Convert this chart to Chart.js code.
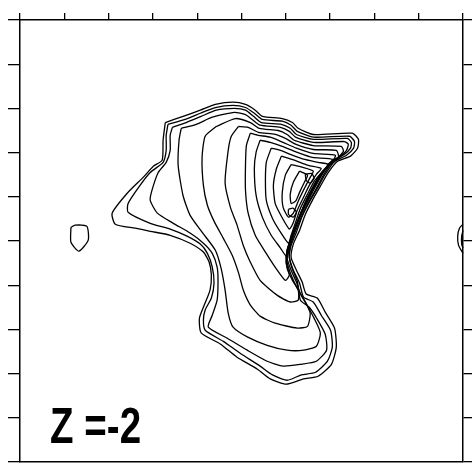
<!DOCTYPE html>
<html>
<head>
    <title>Z = -2</title>
    <script src="https://cdn.jsdelivr.net/npm/chart.js"></script>
    <style>
        body { margin: 0; background: #fff; }
        #wrap { width: 472px; height: 464px; }
    </style>
</head>
<body>
    <div id="wrap"><canvas id="contourChart"></canvas></div>
    <script>
        // contour lines, outer to inner, in plot units (0..100 both ways)
        const contour1 = [[32.8,76.8],[36.8,78.2],[40.7,79.6],[44.1,80.9],[48.1,81.4],[50.9,80.9],[53.1,79.6],[54.7,78.2],[59.2,77.7],[61.5,76.8],[62.8,75.5],[66.2,74.1],[75.0,74.4],[76.4,73.0],[76.2,71.0],[74.6,69.2],[71.6,68.0],[69.6,65.5],[67.8,62.4],[66.0,59.2],[64.4,56.0],[63.1,52.4],[61.7,49.3],[61.2,46.3],[62.4,43.4],[63.7,40.7],[64.6,38.0],[67.1,37.1],[68.9,33.9],[71.0,30.3],[71.4,26.0],[70.3,22.1],[67.3,19.4],[64.0,18.8],[60.1,17.6],[56.5,18.8],[53.6,21.0],[49.0,23.7],[45.2,26.7],[40.9,29.2],[40.5,32.5],[41.6,35.5],[42.9,38.9],[43.2,42.3],[42.7,45.2],[41.4,47.5],[38.4,49.5],[33.9,51.3],[29.4,52.2],[26.0,52.9],[21.5,53.8],[20.8,56.3],[24.2,60.8],[27.8,64.4],[30.1,66.9],[32.1,68.3],[32.3,72.8],[32.8,76.8]];
        const contour2 = [[33.4,76.4],[37.3,77.5],[40.7,78.9],[44.1,80.2],[48.1,80.7],[50.9,80.2],[52.9,78.9],[54.7,77.5],[59.2,77.1],[61.2,76.2],[62.6,74.8],[66.2,73.5],[74.4,73.7],[75.5,72.5],[75.3,71.0],[73.7,69.4],[71.0,68.0],[68.9,65.1],[67.1,61.9],[65.3,58.8],[63.7,55.6],[62.4,52.0],[61.2,49.0],[60.8,46.3],[61.7,43.4],[63.1,40.5],[64.0,37.3],[66.2,36.2],[68.0,33.2],[70.1,29.8],[70.5,26.0],[69.4,22.8],[66.7,20.3],[63.5,19.7],[60.3,18.5],[57.0,19.7],[54.2,21.7],[49.7,24.6],[45.9,27.3],[41.8,29.8],[41.4,32.1],[41.8,34.4],[43.2,37.1],[43.8,40.5],[43.4,44.1],[42.3,47.2],[40.7,49.3],[37.7,51.1],[33.9,52.7],[29.4,54.0],[24.4,56.5],[24.4,58.5],[27.1,62.6],[29.4,65.5],[32.3,67.8],[33.0,70.5],[33.0,73.9],[33.4,76.4]];
        const contour3 = [[34.4,75.7],[37.5,76.8],[40.9,78.2],[44.3,79.6],[48.4,80.0],[50.9,79.6],[52.7,78.2],[54.5,76.8],[59.0,76.4],[61.0,75.5],[62.4,74.1],[66.2,73.0],[73.9,73.2],[74.8,72.3],[74.6,71.0],[73.2,69.6],[70.5,68.0],[68.5,64.9],[66.7,61.5],[64.9,58.3],[63.3,54.9],[61.9,51.5],[61.0,48.8],[60.8,46.3],[61.5,43.6],[62.6,40.9],[63.3,36.6],[65.3,35.0],[67.1,32.3],[68.9,28.9],[69.2,25.3],[66.9,22.8],[63.3,22.1],[59.4,21.7],[55.8,22.8],[51.3,25.3],[46.8,28.0],[42.5,30.5],[43.4,33.2],[44.5,36.6],[44.7,41.1],[44.5,44.1],[43.4,47.2],[41.4,49.5],[38.4,51.8],[34.6,54.0],[31.0,56.3],[29.4,59.2],[29.8,61.5],[31.2,65.5],[33.0,67.8],[33.9,70.5],[33.9,73.9],[34.4,75.7]];
        const contour4 = [[36.4,75.5],[39.8,76.4],[43.4,78.0],[48.4,79.1],[50.9,78.6],[52.4,77.5],[54.2,76.2],[58.8,75.7],[60.8,74.8],[62.2,73.5],[66.2,72.3],[73.2,72.5],[74.1,71.9],[73.7,70.5],[72.3,69.2],[69.8,67.6],[67.8,64.4],[66.0,61.0],[64.4,57.9],[62.8,54.5],[61.5,51.1],[60.6,48.4],[60.3,46.1],[61.2,43.4],[62.4,40.7],[63.3,38.0],[64.9,35.3],[66.4,32.5],[67.8,29.2],[66.9,26.2],[64.0,25.3],[60.3,25.3],[55.8,26.4],[51.3,28.3],[48.1,30.5],[47.0,33.7],[46.3,38.9],[45.4,43.8],[44.1,47.9],[41.1,52.0],[38.4,55.8],[36.8,60.3],[35.7,67.1],[35.9,72.8],[36.4,75.5]];
        const contour5 = [[44.3,75.9],[41.8,73.7],[41.1,68.9],[41.4,62.6],[42.3,58.1],[43.8,54.5],[45.9,50.6],[47.9,46.8],[49.3,42.9],[50.4,38.9],[52.0,35.5],[54.2,33.0],[57.6,31.4],[62.6,30.3],[64.9,30.7],[65.5,33.7],[64.2,36.6],[62.6,39.3],[61.2,42.3],[60.3,45.2],[60.3,47.9],[61.2,50.6],[62.6,54.0],[64.0,57.4],[65.5,60.6],[67.3,63.7],[69.4,66.9],[71.6,68.7],[73.0,70.3],[72.5,71.4],[66.2,71.6],[61.9,72.8],[60.3,74.1],[58.3,75.0],[54.0,75.5],[52.0,76.8],[48.6,77.7],[44.3,75.9]];
        const contour6 = [[49.3,75.9],[47.7,73.7],[47.0,70.5],[46.3,63.1],[47.5,57.6],[49.0,53.6],[50.4,49.0],[52.0,45.2],[54.2,41.1],[58.1,37.7],[61.0,36.2],[62.8,36.6],[62.8,38.9],[61.5,41.1],[60.3,43.8],[60.1,46.8],[60.8,49.5],[61.9,52.7],[63.3,56.0],[64.6,59.2],[66.2,62.4],[68.0,65.3],[70.1,67.3],[71.9,68.9],[71.4,70.5],[66.2,70.7],[62.2,71.9],[59.9,73.2],[57.6,74.1],[53.8,74.6],[51.5,75.7],[49.3,75.9]];
        const contour7 = [[52.0,74.4],[51.1,71.6],[50.9,67.1],[50.9,61.5],[51.5,56.3],[53.1,51.3],[55.4,47.5],[57.6,44.1],[59.9,41.1],[60.8,42.3],[60.1,45.0],[60.3,47.9],[61.2,50.6],[62.4,53.8],[63.7,57.0],[65.3,60.1],[66.9,63.3],[68.7,66.0],[70.5,68.0],[71.2,69.4],[66.2,69.8],[62.4,71.0],[59.4,72.3],[56.5,73.5],[53.8,73.9],[52.0,74.4]];
        const contour8 = [[54.2,72.8],[53.3,70.1],[52.9,66.4],[53.3,60.3],[54.7,55.4],[56.7,51.3],[58.8,48.4],[60.3,46.3],[60.8,48.6],[61.7,51.8],[62.8,54.9],[64.2,58.3],[65.8,61.5],[67.3,64.4],[69.2,66.7],[70.5,68.5],[66.0,68.9],[62.4,70.1],[59.2,71.4],[56.5,72.3],[54.2,72.8]];
        const contour9 = [[56.7,71.0],[55.6,67.8],[55.4,63.7],[55.6,59.2],[57.0,55.1],[58.8,52.0],[60.6,49.5],[61.2,51.3],[62.2,54.2],[63.3,57.4],[64.9,60.6],[66.4,63.5],[68.3,65.8],[69.6,67.3],[67.3,67.8],[64.0,68.5],[61.0,69.6],[58.8,70.5],[56.7,71.0]];
        const contour10 = [[59.0,69.2],[57.9,66.4],[57.2,62.6],[57.6,58.5],[59.0,55.6],[60.8,52.7],[61.7,54.2],[62.6,57.0],[64.0,59.9],[65.3,62.6],[66.9,65.1],[68.0,66.4],[65.1,67.1],[61.9,68.3],[59.0,69.2]];
        const contour11 = [[61.2,67.3],[59.9,64.9],[59.2,61.0],[59.4,57.6],[60.6,55.4],[61.7,56.3],[62.8,59.0],[64.2,61.9],[65.5,64.4],[66.2,65.8],[63.7,66.7],[61.2,67.3]];
        const contour12 = [[63.1,65.8],[61.7,63.3],[61.0,60.6],[61.2,58.5],[62.2,59.0],[63.1,61.0],[64.2,63.3],[64.9,64.9],[63.1,65.8]];
        const loopA = [[64.4,65.1],[65.8,65.3],[66.4,64.2],[65.5,63.1],[64.6,63.7],[64.4,65.1]];
        const loopB = [[60.6,57.2],[61.7,57.4],[62.4,56.5],[61.7,55.4],[60.6,56.0],[60.6,57.2]];
        const shield = [[11.5,53.1],[12.4,53.6],[15.1,53.3],[15.4,50.2],[13.3,47.7],[11.5,49.7],[11.5,53.1]];
        const edgeOuter = [[100,53.8],[99.2,52.9],[98.8,51.1],[99.0,49.0],[100,47.2]];
        const edgeInner = [[100,52.4],[99.7,51.1],[99.7,49.3],[100,48.4]];

        const lines = [contour1, contour2, contour3, contour4, contour5, contour6,
            contour7, contour8, contour9, contour10, contour11, contour12,
            loopA, loopB, shield, edgeOuter, edgeInner];

        const levelLabel = 'Z =-2';

        const datasets = lines.map(pts => ({
            data: pts.map(p => ({ x: p[0], y: p[1] })),
            showLine: true,
            borderColor: '#000',
            borderWidth: 1.3,
            pointRadius: 0,
            tension: 0.2,
            fill: false,
            clip: false
        }));

        const labelPlugin = {
            id: 'levelLabel',
            afterDraw(chart) {
                const ctx = chart.ctx;
                const x = chart.scales.x.getPixelForValue(6.8);
                const y = chart.scales.y.getPixelForValue(4.3);
                ctx.save();
                ctx.translate(x, y);
                ctx.scale(0.77, 1);
                ctx.font = 'bold 50px "Liberation Sans"';
                ctx.fillStyle = '#000';
                ctx.textBaseline = 'alphabetic';
                ctx.fillText(levelLabel, 0, 0);
                ctx.restore();
            }
        };

        function axis(position, tickLength, draw) {
            return {
                type: 'linear',
                position: position,
                min: 0,
                max: 100,
                ticks: { display: false, stepSize: 10 },
                grid: {
                    drawOnChartArea: false,
                    drawTicks: draw,
                    tickLength: tickLength,
                    color: '#000',
                    lineWidth: 1.3
                },
                border: { display: true, color: '#000', width: 1.5 }
            };
        }

        new Chart(document.getElementById('contourChart'), {
            type: 'scatter',
            data: { datasets: datasets },
            options: {
                responsive: true,
                maintainAspectRatio: false,
                animation: false,
                layout: { padding: { left: 8, right: 0, top: 13, bottom: 2 } },
                plugins: { legend: { display: false }, tooltip: { enabled: false } },
                scales: {
                    x: axis('bottom', 0, false),
                    x2: axis('top', 7, true),
                    y: axis('left', 12, true),
                    y2: axis('right', 9, true)
                }
            },
            plugins: [labelPlugin]
        });
    </script>
</body>
</html>
